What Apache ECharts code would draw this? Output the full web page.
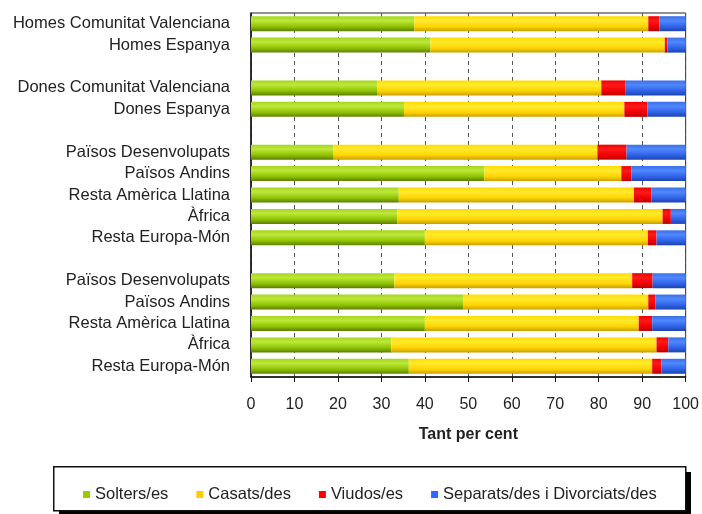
<!DOCTYPE html>
<html>
<head>
<meta charset="utf-8">
<script src="https://cdn.jsdelivr.net/npm/echarts@6/dist/echarts.min.js"></script>
<style>
  html, body { margin: 0; padding: 0; background: #fff; }
  #chart1 { width: 702px; height: 514px; }
</style>
</head>
<body>
<div id="chart1"></div>
<script>
    // categories, blanks '' are the gaps between groups
    var categories = [
        'Homes Comunitat Valenciana', 'Homes Espanya', '',
        'Dones Comunitat Valenciana', 'Dones Espanya', '',
        'Països Desenvolupats', 'Països Andins', 'Resta Amèrica Llatina', 'Àfrica', 'Resta Europa-Món', '',
        'Països Desenvolupats', 'Països Andins', 'Resta Amèrica Llatina', 'Àfrica', 'Resta Europa-Món'
    ];
    var solters  = [37.6, 41.3, '-', 29.0, 35.2, '-', 19.0, 53.7, 34.0, 33.7, 40.0, '-', 33.0, 48.9, 40.0, 32.3, 36.3];
    var casats   = [53.8, 53.9, '-', 51.6, 50.7, '-', 60.7, 31.5, 54.1, 61.0, 51.3, '-', 54.7, 42.5, 49.2, 61.0, 56.0];
    var viudos   = [2.6, 0.6, '-', 5.6, 5.3, '-', 6.7, 2.3, 4.0, 1.9, 2.0, '-', 4.7, 1.6, 3.1, 2.7, 2.1];
    var separats = [6.0, 4.2, '-', 13.8, 8.8, '-', 13.6, 12.5, 7.9, 3.4, 6.7, '-', 7.6, 7.0, 7.7, 4.0, 5.6];
    var seriesNames = ['Solters/es', 'Casats/des', 'Viudos/es', 'Separats/des i Divorciats/des'];
    var xTicks = [0, 10, 20, 30, 40, 50, 60, 70, 80, 90, 100];

    var fontName = '"Liberation Sans", Arial, sans-serif';

    // cylinder-like shading for the bars
    function shade(c0, c1, c2, c3) {
        return new echarts.graphic.LinearGradient(0, 0, 0, 1, [
            {offset: 0, color: c0},
            {offset: 0.3, color: c1},
            {offset: 0.7, color: c2},
            {offset: 1, color: c3}
        ]);
    }
    var barColors = [
        shade('#a6d61e', '#bde83a', '#8fc200', '#5c7f00'),
        shade('#ffdc00', '#ffea2e', '#ffd400', '#c7a000'),
        shade('#f00000', '#ff1a1a', '#f00000', '#b80000'),
        shade('#3a6fe8', '#5088ff', '#2f62e6', '#1d43b0')
    ];
    var flatColors = ['#99cc00', '#ffcc00', '#ff0000', '#3366ff'];
    var values = [solters, casats, viudos, separats];

    var series = seriesNames.map(function (n, i) {
        return {
            name: n,
            type: 'bar',
            stack: 'total',
            barWidth: 15,
            itemStyle: {color: barColors[i]},
            emphasis: {disabled: true},
            data: values[i]
        };
    });

    var option = {
        animation: false,
        backgroundColor: '#fff',
        textStyle: {fontFamily: fontName},
        grid: {
            left: 251, right: 15, top: 13, bottom: 137,
            show: true,
            borderColor: '#222',
            borderWidth: 1
        },
        legend: {
            left: 78,
            top: 481,
            itemWidth: 7,
            itemHeight: 7,
            itemGap: 28,
            icon: 'rect',
            textStyle: {fontSize: 16.5, color: '#222', fontFamily: fontName},
            data: seriesNames.map(function (n, i) {
                return {name: n, itemStyle: {color: flatColors[i]}};
            })
        },
        graphic: [{
            // legend frame shadow
            type: 'rect',
            left: 59,
            top: 472,
            shape: {width: 632, height: 44},
            z: -2,
            style: {fill: '#000'}
        }, {
            type: 'rect',
            left: 53,
            top: 466,
            shape: {width: 632, height: 44},
            z: -1,
            style: {fill: '#fff', stroke: '#111', lineWidth: 1.5}
        }],
        xAxis: {
            type: 'value',
            min: xTicks[0],
            max: xTicks[xTicks.length - 1],
            interval: 10,
            name: 'Tant per cent',
            nameLocation: 'middle',
            nameGap: 50,
            nameTextStyle: {fontSize: 16, fontWeight: 'bold', color: '#222'},
            axisLine: {show: true, lineStyle: {color: '#111', width: 1.5}},
            axisTick: {show: true, length: 5, lineStyle: {color: '#111'}},
            axisLabel: {fontSize: 16, color: '#222', margin: 20},
            splitLine: {show: true, lineStyle: {color: '#555', type: [4, 4], width: 1}}
        },
        yAxis: {
            type: 'category',
            inverse: true,
            data: categories,
            axisLine: {show: true, lineStyle: {color: '#111', width: 1.5}},
            axisTick: {show: false},
            axisLabel: {fontSize: 16.5, color: '#222', margin: 21, interval: 0}
        },
        series: series
    };

    var myChart = echarts.init(document.getElementById('chart1'));
    myChart.setOption(option);
</script>
</body>
</html>
